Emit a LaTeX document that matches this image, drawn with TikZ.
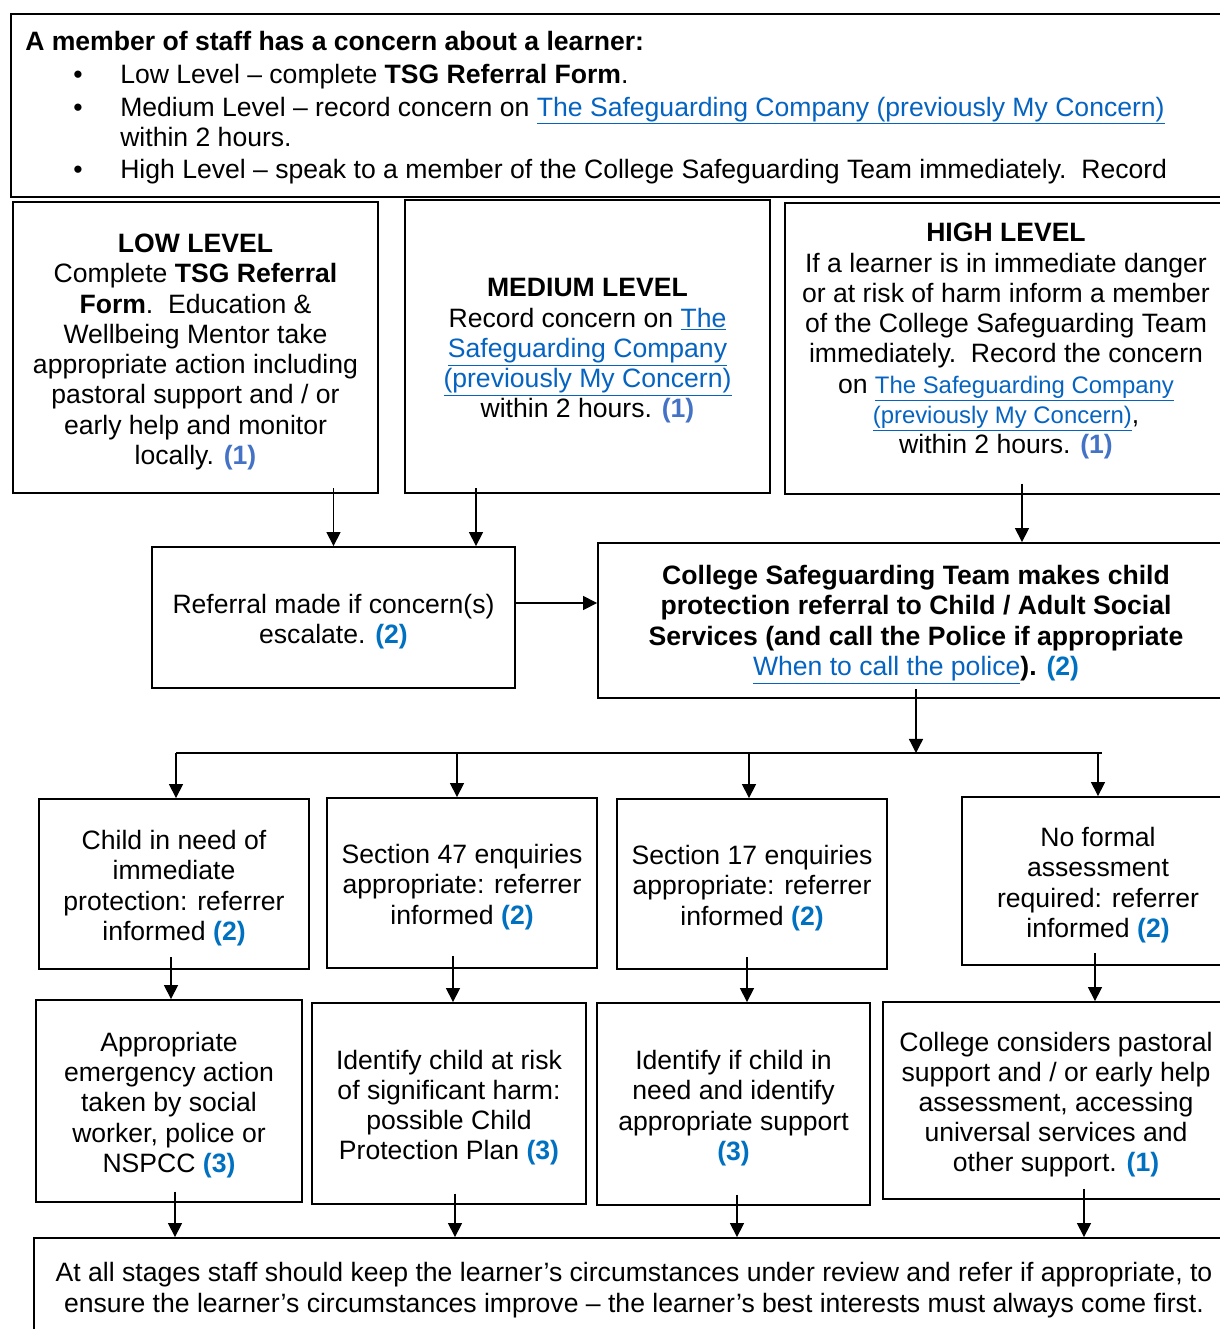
\documentclass[tikz,border=0pt]{standalone}
\usepackage{fontspec}
\setmainfont{Liberation Sans}
\usetikzlibrary{arrows.meta}

\definecolor{linkBlue}{HTML}{0563C1}
\definecolor{stepBlueLight}{HTML}{4472C4}
\definecolor{stepBlue}{HTML}{0070C0}

\newcommand{\lnk}[1]{\textcolor{linkBlue}{\underline{#1}}}
\newcommand{\lnksmall}[1]{{\fontsize{17}{20}\selectfont\lnk{#1}}}
\newcommand{\stepA}[1]{\textcolor{stepBlueLight}{\textbf{(#1)}}}
\newcommand{\stepB}[1]{\textcolor{stepBlue}{\textbf{(#1)}}}
\newcommand{\toplift}{\rule{0pt}{19.5pt}}

\begin{document}
\begin{tikzpicture}[x=0.025cm,y=-0.025cm,
    flowbox/.style={draw,line width=1.3pt,inner sep=0pt,align=center,
        font=\fontsize{18.9}{21.5}\selectfont},
    boxsize/.style 2 args={minimum width=#1*0.025cm,minimum height=#2*0.025cm},
    flowtext/.style={inner sep=0pt,font=\fontsize{18.9}{21.5}\selectfont},
    flowarrow/.style={line width=0.9pt,-{Triangle[length=10pt,width=10pt]}}]

    % Page.
    \useasboundingbox(0,0)rectangle(1220,1329);

    % -----------
    % Staff box.
    % -----------
    \node[draw,line width=1.3pt,boxsize={1229}{183}](staff)at(625.5,105.5){};
    \node[flowtext,anchor=base west](staffTitle)at(25,50){\textbf{A member of staff has a concern about a learner:}};
    \node[flowtext,anchor=base west](staffLow)at(120,83){Low Level -- complete \textbf{TSG Referral Form}.};
    \node[flowtext,anchor=base west](staffMed)at(120,116){Medium Level -- record concern on \lnk{The Safeguarding Company (previously My Concern)}};
    \node[flowtext,anchor=base west](staffMedTwo)at(120,146){within 2 hours.};
    \node[flowtext,anchor=base west](staffHigh)at(120,178){High Level -- speak to a member of the College Safeguarding Team immediately.\ \ Record};
    \foreach \y [count=\i] in {83,116,178}
        \node[flowtext,anchor=base](bullet\i)at(78,\y){\textbullet};

    % -----------
    % Levels.
    % -----------
    \node[flowbox,boxsize={365}{291}](low)at(195.5,347.5){%
        \toplift\textbf{LOW LEVEL}\\
        Complete \textbf{TSG Referral}\\
        \textbf{Form}.\ \ Education \&\\
        Wellbeing Mentor take\\
        appropriate action including\\
        pastoral support and / or\\
        early help and monitor\\
        locally. \stepA{1}};

    \node[flowbox,boxsize={365}{293}](med)at(587.5,346.5){%
        \toplift\textbf{MEDIUM LEVEL}\\
        Record concern on \lnk{The}\\
        \lnk{Safeguarding Company}\\
        \lnk{(previously My Concern)}\\
        within 2 hours. \stepA{1}};

    \node[flowbox,boxsize={442}{291}](high)at(1006,348.5){%
        \toplift\textbf{HIGH LEVEL}\\
        If a learner is in immediate danger\\
        or at risk of harm inform a member\\
        of the College Safeguarding Team\\
        immediately.\ \ Record the concern\\
        on \lnksmall{The Safeguarding Company}\\
        \lnksmall{(previously My Concern)},\\
        within 2 hours. \stepA{1}\\[-1pt]};

    % -----------
    % Referral.
    % -----------
    \node[flowbox,boxsize={363}{141}](ref)at(333.5,617.5){%
        \toplift Referral made if concern(s)\\
        escalate. \stepB{2}};

    \node[flowbox,boxsize={636}{155}](college)at(916,620.5){%
        \toplift\textbf{College Safeguarding Team makes child}\\
        \textbf{protection referral to Child / Adult Social}\\
        \textbf{Services (and call the Police if appropriate}\\
        \lnk{When to call the police}\textbf{).} \stepB{2}};

    % -----------
    % Outcomes.
    % -----------
    \node[flowbox,boxsize={270}{170}](child)at(174,884){%
        \toplift Child in need of\\immediate\\protection: referrer\\informed \stepB{2}};
    \node[flowbox,boxsize={270}{170}](secFortySeven)at(462,883){%
        \toplift Section 47 enquiries\\appropriate: referrer\\informed \stepB{2}};
    \node[flowbox,boxsize={270}{170}](secSeventeen)at(752,884){%
        \toplift Section 17 enquiries\\appropriate: referrer\\informed \stepB{2}};
    \node[flowbox,boxsize={272}{168}](noFormal)at(1098,881){%
        \toplift No formal\\assessment\\required: referrer\\informed \stepB{2}};

    % -----------
    % Actions.
    % -----------
    \node[flowbox,boxsize={266}{202}](emergency)at(169,1101){%
        \toplift Appropriate\\emergency action\\taken by social\\worker, police or\\NSPCC \stepB{3}};
    \node[flowbox,boxsize={274}{201}](riskHarm)at(449,1103.5){%
        \toplift Identify child at risk\\of significant harm:\\possible Child\\Protection Plan \stepB{3}};
    \node[flowbox,boxsize={273}{202}](needSupport)at(733.5,1104){%
        \toplift Identify if child in\\need and identify\\appropriate support\\\stepB{3}};
    \node[flowbox,boxsize={346}{197}](pastoral)at(1056,1100.5){%
        \toplift College considers pastoral\\support and / or early help\\assessment, accessing\\universal services and\\other support. \stepB{1}};

    % Review.
    \node[flowbox,boxsize={1200}{104}](review)at(634,1290){%
        At all stages staff should keep the learner’s circumstances under review and refer if appropriate, to\\
        ensure the learner’s circumstances improve -- the learner’s best interests must always come first.};

    % -----------
    % Arrows.
    % -----------
    \coordinate(medDrop)at(476,0);
    \coordinate(highDrop)at(1022,0);
    \coordinate(refLevel)at(0,603);
    \coordinate(split)at(916,753);
    \coordinate(splitWest)at(176,753);
    \coordinate(splitEast)at(1102,753);

    \draw[flowarrow]([yshift=4pt]low.south -| ref.north)--(ref.north);
    \draw[flowarrow]([yshift=4pt]med.south -| medDrop)--(ref.north -| medDrop);
    \draw[flowarrow]([yshift=8pt]high.south -| highDrop)--(college.north -| highDrop);
    \draw[flowarrow](ref.east |- refLevel)--(college.west |- refLevel);
    \draw[flowarrow]([yshift=7pt]college.south)--(split);
    \draw[line width=0.9pt](splitWest)--(splitEast);

    \foreach \x/\n in {176/child,457/secFortySeven,749/secSeventeen,1098/noFormal}{
        \coordinate(drop)at(\x,753);
        \draw[flowarrow](drop)--(\n.north -| drop);
    }
    \foreach \x/\a/\b in {171/child/emergency,453/secFortySeven/riskHarm,747/secSeventeen/needSupport,1095/noFormal/pastoral}{
        \coordinate(drop)at(\x,0);
        \draw[flowarrow]([yshift=9pt]\a.south -| drop)--(\b.north -| drop);
    }
    \foreach \x/\a in {175/emergency,455/riskHarm,737/needSupport,1084/pastoral}{
        \coordinate(drop)at(\x,0);
        \draw[flowarrow]([yshift=8pt]\a.south -| drop)--(review.north -| drop);
    }

\end{tikzpicture}
\end{document}
